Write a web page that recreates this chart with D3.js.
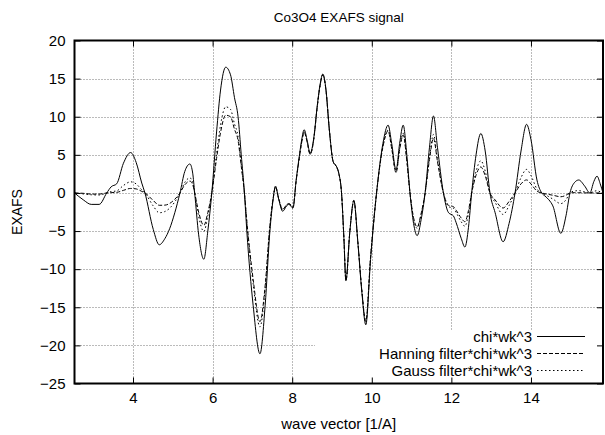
<!DOCTYPE html>
<html>
<head>
<meta charset="utf-8">
<script src="https://cdn.jsdelivr.net/npm/d3@7"></script>
<style>
    body { margin: 0; background: #fff; }
    svg text { font-family: "Liberation Sans", Arial, sans-serif; fill: #000; }
</style>
</head>
<body>
<div id="graphDiv"></div>
<script>
// wave vector k [1/A]
const waveVector = [
    2.53, 2.75, 2.95, 3.15, 3.34, 3.45, 3.59, 3.76, 3.94, 4.08,
    4.22, 4.30, 4.51, 4.66, 4.80, 4.92, 5.05, 5.18, 5.30, 5.43,
    5.50, 5.55, 5.65, 5.78, 5.88, 5.98, 6.10, 6.20, 6.33, 6.45,
    6.55, 6.64, 6.72, 6.80, 6.86, 7.02, 7.19, 7.32, 7.44, 7.52,
    7.58, 7.66, 7.76, 7.86, 7.92, 8.02, 8.10, 8.17, 8.24, 8.30,
    8.38, 8.45, 8.55, 8.62, 8.70, 8.77, 8.85, 8.93, 9.03, 9.12,
    9.17, 9.24, 9.30, 9.35, 9.45, 9.55, 9.65, 9.75, 9.85, 9.97,
    10.12, 10.28, 10.41, 10.50, 10.61, 10.70, 10.79, 10.88, 10.96, 11.05,
    11.14, 11.24, 11.34, 11.45, 11.55, 11.65, 11.80, 11.93, 12.05, 12.12,
    12.25, 12.34, 12.43, 12.51, 12.62, 12.74, 12.85, 12.97, 13.10, 13.30,
    13.45, 13.60, 13.75, 13.89, 14.00, 14.15, 14.27, 14.35, 14.45, 14.55,
    14.75, 14.88, 14.98, 15.10, 15.20, 15.35, 15.48, 15.58, 15.66, 15.74, 15.81
]

const chiWk3 = [
    0, -0.9, -1.5, -1.5, 0, 0.8, 1.2, 3.9, 5.3, 4.0,
    1.3, 0, -4.8, -6.8, -6.0, -4.7, -2.6, 0, 2.8, 3.8,
    2.6, 0, -5.5, -8.7, -5.0, 0, 8.0, 13.5, 16.5, 15.5,
    12.5, 10.0, 5.0, 0, -5.0, -14.8, -21.1, -14.8, -5.0, -0.9,
    0.9, -0.8, -2.4, -1.7, -1.5, -2.0, 1.7, 4.5, 7.0, 8.3,
    6.8, 5.2, 7.5, 11.0, 14.2, 15.6, 13.5, 8.5, 4.1, 3.4,
    2.6, 0, -6.0, -11.5, -5.0, -1.0, -6.5, -13.0, -17.3, -8.7,
    0, 6.5, 8.9, 6.5, 3.0, 6.5, 8.9, 5.0, 0, -4.0,
    -5.6, -3.5, 0, 6.0, 10.1, 6.0, 0, -2.6, -3.0, -3.9,
    -6.0, -7.1, -4.5, 0, 5.0, 7.8, 5.5, 0, -2.6, -6.4,
    -4.0, 0, 5.5, 9.0, 7.0, 1.7, 0, -0.4, -0.9, -1.7,
    -5.3, -3.0, 0, 1.4, 1.7, 0.9, 0, 1.5, 2.2, 1.2, 0
]

const hanningWk3 = [
    0, -0.05, -0.15, -0.15, 0, 0.04, 0.08, 0.34, 0.59, 0.53,
    0.20, 0, -1.00, -1.62, -1.60, -1.38, -0.83, 0, 1.06, 1.55,
    1.10, 0, -2.52, -4.26, -2.57, 0, 4.52, 7.94, 10.20, 10.00,
    8.35, 6.88, 3.52, 0, -3.67, -11.36, -16.88, -12.21, -4.23, -0.77,
    0.78, -0.71, -2.15, -1.55, -1.38, -1.86, 1.60, 4.26, 6.68, 7.97,
    6.58, 5.06, 7.35, 10.83, 14.04, 15.48, 13.43, 8.48, 4.10, 3.40,
    2.60, 0, -5.99, -11.47, -4.97, -0.99, -6.41, -12.74, -16.84, -8.38,
    0, 6.05, 8.14, 5.86, 2.66, 5.67, 7.63, 4.21, 0, -3.25,
    -4.45, -2.71, 0, 4.39, 7.18, 4.14, 0, -1.63, -1.80, -2.27,
    -3.31, -3.77, -2.29, 0, 2.33, 3.41, 2.26, 0, -0.92, -1.98,
    -1.11, 0, 1.19, 1.71, 1.18, 0.24, 0, -0.10, -0.20, -0.30,
    -0.50, -0.30, 0, 0.04, 0.03, 0.01, 0, 0, 0, 0, 0
]

const gaussWk3 = [
    0, -0.13, -0.24, -0.27, 0, 0.17, 0.27, 0.98, 1.46, 1.18,
    0.41, 0, -1.72, -2.60, -2.44, -2.01, -1.17, 0, 1.38, 1.97,
    1.38, 0, -3.07, -5.06, -3.01, 0, 5.14, 8.92, 11.30, 10.96,
    9.06, 7.41, 3.78, 0, -3.90, -11.93, -17.58, -12.62, -4.35, -0.79,
    0.80, -0.72, -2.19, -1.57, -1.40, -1.88, 1.61, 4.30, 6.73, 8.02,
    6.61, 5.08, 7.37, 10.85, 14.06, 15.49, 13.44, 8.48, 4.10, 3.40,
    2.60, 0, -5.99, -11.48, -4.98, -0.99, -6.42, -12.78, -16.90, -8.42,
    0, 6.12, 8.25, 5.96, 2.71, 5.80, 7.83, 4.34, 0, -3.37,
    -4.64, -2.84, 0, 4.66, 7.68, 4.46, 0, -1.80, -2.01, -2.56,
    -3.80, -4.37, -2.70, 0, 2.82, 4.22, 2.87, 0, -1.24, -2.82,
    -1.66, 0, 2.01, 3.09, 2.28, 0.52, 0, -0.20, -0.50, -0.80,
    -1.40, -0.90, 0, 0.26, 0.30, 0.14, 0, 0.21, 0.29, 0.15, 0
]

const xTickValues = [4, 6, 8, 10, 12, 14]
const yTickValues = [-25, -20, -15, -10, -5, 0, 5, 10, 15, 20]
const seriesLabels = ["chi*wk^3", "Hanning filter*chi*wk^3", "Gauss filter*chi*wk^3"]
const seriesDashes = [null, "4,2", "1.5,2.5"]

const svgWidth = 605
const svgHeight = 435
const margin = { left: 74.5, right: 2, top: 40.5, bottom: 51.5 }
const tickLen = 6

const svg = d3.select("#graphDiv")
    .append("svg")
    .attr("width", svgWidth)
    .attr("height", svgHeight)

const xScale = d3.scaleLinear()
    .domain([2.53, 15.81])
    .range([margin.left, svgWidth - margin.right])

const yScale = d3.scaleLinear()
    .domain([-25, 20])
    .range([svgHeight - margin.bottom, margin.top])

const [x0, x1] = xScale.range()
const [y0, y1] = yScale.range() // y0 bottom, y1 top

// grid
const grid = svg.append("g")
    .attr("stroke", "#777")
    .attr("stroke-width", 1)
    .attr("stroke-dasharray", "1,2")

grid.selectAll(".vgrid")
    .data(xTickValues)
    .enter()
    .append("line")
    .attr("x1", d => Math.round(xScale(d)) + 0.5)
    .attr("x2", d => Math.round(xScale(d)) + 0.5)
    .attr("y1", y1)
    .attr("y2", y0)

grid.selectAll(".hgrid")
    .data(yTickValues.filter(d => d > -25 && d < 20))
    .enter()
    .append("line")
    .attr("x1", x0)
    .attr("x2", x1)
    .attr("y1", d => Math.round(yScale(d)) + 0.5)
    .attr("y2", d => Math.round(yScale(d)) + 0.5)

// key area is cleared like gnuplot does
const keyRight = 532
const keyRowY = [336.5, 353.5, 370.5]
svg.append("rect")
    .attr("x", 315)
    .attr("y", 330)
    .attr("width", x1 - 315)
    .attr("height", y0 - 330)
    .attr("fill", "#fff")

// curves
const seriesData = [chiWk3, hanningWk3, gaussWk3]
const lineGen = d3.line()
    .x(d => xScale(d[0]))
    .y(d => yScale(d[1]))
    .curve(d3.curveMonotoneX)

seriesData.forEach((values, i) => {
    const pts = waveVector.map((k, j) => [k, values[j]])
    svg.append("path")
        .attr("d", lineGen(pts))
        .attr("fill", "none")
        .attr("stroke", "#000")
        .attr("stroke-width", 1)
        .attr("stroke-dasharray", seriesDashes[i])
})

// frame
svg.append("rect")
    .attr("x", x0)
    .attr("y", y1)
    .attr("width", x1 - x0)
    .attr("height", y0 - y1)
    .attr("fill", "none")
    .attr("stroke", "#000")
    .attr("stroke-width", 2)

// ticks on all four sides, pointing inward
const bottomAxis = d3.axisBottom(xScale).tickValues(xTickValues).tickSize(-tickLen).tickPadding(9).tickSizeOuter(0)
const topAxis = d3.axisTop(xScale).tickValues(xTickValues).tickSize(-tickLen).tickFormat("").tickSizeOuter(0)
const leftAxis = d3.axisLeft(yScale).tickValues(yTickValues).tickSize(-tickLen).tickPadding(9).tickSizeOuter(0)
const rightAxis = d3.axisRight(yScale).tickValues(yTickValues).tickSize(-tickLen).tickFormat("").tickSizeOuter(0)

const axes = [
    [bottomAxis, `translate(0,${y0})`],
    [topAxis, `translate(0,${y1})`],
    [leftAxis, `translate(${x0},0)`],
    [rightAxis, `translate(${x1},0)`]
]
axes.forEach(([axis, tr]) => {
    const g = svg.append("g").attr("transform", tr).call(axis)
    g.select(".domain").remove()
    g.selectAll(".tick line").attr("stroke", "#000").attr("stroke-width", 1)
    g.selectAll("text").attr("font-family", null).attr("font-size", "15px")
})

// title and axis labels
svg.append("text")
    .attr("x", (x0 + x1) / 2)
    .attr("y", 22)
    .attr("text-anchor", "middle")
    .attr("font-size", "13.5px")
    .text("Co3O4 EXAFS signal")

svg.append("text")
    .attr("x", (x0 + x1) / 2)
    .attr("y", 429)
    .attr("text-anchor", "middle")
    .attr("font-size", "15px")
    .text("wave vector [1/A]")

svg.append("text")
    .attr("transform", `translate(22, ${(y0 + y1) / 2}) rotate(-90)`)
    .attr("text-anchor", "middle")
    .attr("font-size", "14px")
    .text("EXAFS")

// legend
seriesLabels.forEach((label, i) => {
    svg.append("text")
        .attr("x", keyRight)
        .attr("y", keyRowY[i] + 5)
        .attr("text-anchor", "end")
        .attr("font-size", "15px")
        .text(label)
    svg.append("line")
        .attr("x1", 537)
        .attr("x2", 585)
        .attr("y1", keyRowY[i])
        .attr("y2", keyRowY[i])
        .attr("stroke", "#000")
        .attr("stroke-width", 1)
        .attr("stroke-dasharray", seriesDashes[i])
})
</script>
</body>
</html>
